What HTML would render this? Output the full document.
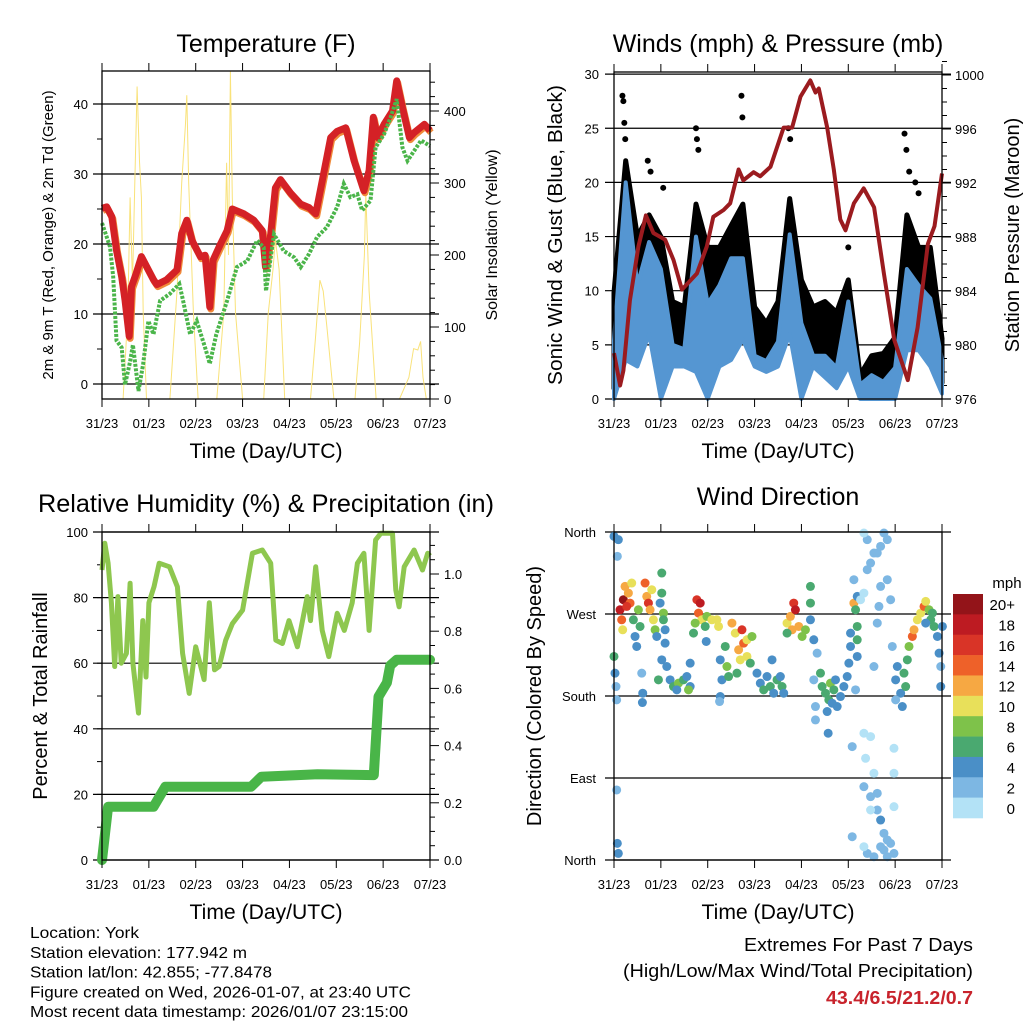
<!DOCTYPE html>
<html><head><meta charset="utf-8"><style>
html,body{margin:0;padding:0;background:#fff}
svg{display:block;font-family:"Liberation Sans",sans-serif}
</style></head><body>
<svg id="c" width="1024" height="1024" viewBox="0 0 1024 1024"></svg>
<script>
// ---------- data ----------
const dayLabels=["31/23","01/23","02/23","03/23","04/23","05/23","06/23","07/23"];
const tempT=[0,0.1,0.21,0.31,0.42,0.49,0.58,0.63,0.73,0.84,0.95,1.1,1.17,1.38,1.6,1.7,1.81,1.92,2.1,2.2,2.3,2.37,2.53,2.67,2.78,3.03,3.24,3.42,3.49,3.6,3.7,3.81,4.02,4.24,4.42,4.56,4.7,4.88,5.02,5.2,5.38,5.59,5.7,5.79,5.88,6.02,6.2,6.29,6.41,6.56,6.66,6.88,7];
const tempF=[25.1,25.3,23.9,19.1,15.3,12,6.8,13.9,15.8,18.2,16.8,14.9,14.2,14.9,16.3,21.5,23.4,20.5,18.2,18.4,11,17.7,20,21.9,25,24.3,23.4,21.9,16.7,21.4,28,29.2,27.3,25.7,25.2,24.3,29,35.2,36.1,36.6,31.9,27.6,30.5,38.1,35.2,37.1,39,43.3,39.5,35.2,35.9,37.1,36.2];
const dewT=[0,0.17,0.24,0.31,0.42,0.49,0.6,0.66,0.78,0.88,0.99,1.1,1.24,1.45,1.65,1.73,1.88,2.02,2.2,2.3,2.44,2.67,2.88,3.1,3.31,3.45,3.5,3.67,3.88,4.1,4.24,4.42,4.59,4.8,5.02,5.16,5.3,5.45,5.55,5.73,5.84,6.02,6.16,6.29,6.41,6.52,6.66,6.81,7];
const dewF=[23,19.6,15.3,6.2,5.2,-0.1,3.2,5.6,-1,2.9,9,7.1,11.9,12.9,14.3,11.9,7.1,9,5.2,2.9,7.1,11.9,16.7,17.6,20.5,19.5,13.3,21.4,19,18.1,16.7,18.6,21,22.4,25.3,28.6,26.7,27.1,24.8,26.2,33.8,35.7,38.1,40.7,33.8,31.9,33.3,34.8,34];
const solarT=[0.45,0.55,0.6,0.65,0.7,0.75,0.8,0.84,0.88,0.95,1.45,1.6,1.7,1.78,1.81,1.85,1.95,2.05,2.45,2.6,2.66,2.7,2.74,2.78,2.85,3.0,3.45,3.55,3.65,3.7,3.78,3.9,4.45,4.55,4.65,4.72,4.8,4.95,5.4,5.5,5.6,5.63,5.7,5.85,6.35,6.55,6.65,6.74,6.8,6.85,6.92];
const solarW=[0,120,280,160,300,434,330,280,120,0,0,150,300,380,422,300,120,0,0,120,328,200,455,280,120,0,0,120,180,221,180,0,0,80,165,150,100,0,0,80,200,286,150,0,0,30,70,68,80,30,0];
const windT=[0,0.25,0.5,0.75,1,1.25,1.5,1.75,2,2.25,2.5,2.75,3,3.25,3.5,3.75,4,4.25,4.5,4.75,5,5.25,5.5,5.75,6,6.25,6.5,6.75,7];
const gustHi=[9.8,22,15,17,15,9,8.5,18,14,14,16,18,8.5,7,9,18.5,11,8.5,9,8,11,2.2,4,4.2,5.7,17,14,14,5.6];
const windHi=[5.4,20,10.5,14.5,12,5,4.6,15,8.8,10.5,13,13,4,3.5,5.3,15.2,7,4,4,2.9,9,1.3,2.2,1.6,2.9,12,10.5,9.3,3.6];
const windLo=[0,3.6,3,6,0,3,3,2.5,0,3,3.6,5.5,3,2.5,3,6,0,3,2,1,3,0,0,0,0,4.5,4.5,3,0.5];
const gustSpikeT=[0.18,0.2,0.22,0.24,0.72,0.78,1.05,1.75,1.77,1.8,2.72,2.74,3.72,3.76,5.0,6.2,6.24,6.3,6.43,6.5];
const gustSpikeV=[28,27.5,25.5,24,22,21,19.5,25,24,23,28,26,25,24,14,24.5,23,21,20,19];
const presT=[0,0.13,0.2,0.34,0.52,0.68,0.84,1.09,1.27,1.45,1.77,1.98,2.12,2.34,2.48,2.66,2.76,2.98,3.12,3.34,3.62,3.8,3.98,4.19,4.3,4.37,4.55,4.69,4.83,4.94,5.12,5.33,5.55,5.76,5.98,6.27,6.48,6.7,6.84,7];
const presMb=[979.4,977,978.1,983.3,987.3,989.6,988.3,987.8,986.3,984.1,985.3,987.3,989.5,990,990.5,993,992.2,992.8,992.5,993.2,996.1,996.1,998.4,999.6,998.7,999,996.1,993,989.3,988.5,990.5,991.6,990.2,985.3,980.4,977.4,981.3,987.5,988.8,992.7];
const rhT=[0,0.06,0.13,0.2,0.27,0.34,0.41,0.52,0.6,0.66,0.78,0.87,0.94,1,1.11,1.22,1.44,1.61,1.72,1.86,2,2.18,2.29,2.4,2.5,2.64,2.78,3,3.21,3.42,3.6,3.71,3.85,3.99,4.17,4.38,4.45,4.56,4.7,4.84,5.02,5.17,5.34,5.45,5.59,5.7,5.84,5.95,6.2,6.27,6.34,6.45,6.66,6.84,6.95,7];
const rhPct=[88.4,96.6,90.5,78.4,59,80.3,60,63,84.4,60,44.8,73,55.8,78.4,83.3,90.5,89.4,83.3,63,50.8,65,55,78.4,58,59,67,72,76.2,93.5,94.5,90.5,67,66,73,65,80.3,73,89.4,70,62,75.2,70,78.4,90.5,93.5,70,97.6,99.6,99.6,82.3,77.2,89.4,94.5,88.4,93.5,92.7];
const rainT=[0,0.13,1.1,1.35,3.18,3.4,4.6,5.8,5.9,6.08,6.15,6.29,7];
const rainIn=[0,0.186,0.186,0.256,0.256,0.291,0.3,0.297,0.571,0.62,0.68,0.7,0.7];
const dirRaw=[[42,50,4],[55,60,4],[52,110,2],[42,410,6],[45,460,4],[48,500,2],[50,540,2],[52,970,4],[55,1000,4],[50,810,2],
[60,270,18],[70,240,20],[65,300,14],[75,200,12],[85,220,12],[90,250,14],[68,330,10],[95,190,10],[80,260,16],
[100,300,6],[105,350,4],[110,380,4],[120,320,6],[125,460,2],[128,520,4],[127,548,4],[115,270,8],
[135,190,14],[140,230,12],[145,250,16],[150,270,12],[155,210,10],[160,300,10],[165,330,8],[170,350,4],
[185,160,6],[185,220,6],[180,250,4],[190,280,8],[190,300,6],[195,330,4],[195,370,4],[185,420,4],[175,480,6],
[200,440,4],[210,480,4],[220,500,6],[235,490,8],[250,480,6],[260,470,4],[270,500,4],[270,430,4],[265,510,8],[230,510,4],
[290,240,16],[300,250,18],[295,280,14],[305,300,10],[285,310,8],[280,340,6],[315,320,6],[320,290,8],[335,300,10],[350,300,10],[355,320,10],[318,365,4],
[360,420,4],[365,480,4],[360,530,4],[358,545,2],[375,380,6],[380,440,8],[385,470,6],[395,310,12],[405,340,10],[415,390,12],[425,330,16],[430,370,14],[420,420,10],[440,360,10],[440,410,10],[450,430,6],[455,350,8],[410,460,6],
[470,460,4],[480,490,4],[490,510,6],[500,470,4],[510,500,6],[520,520,4],[515,420,4],[530,480,6],[545,500,6],[550,520,4],[540,470,4],
[560,310,10],[570,290,12],[580,250,16],[585,270,18],[575,330,12],[595,320,12],[605,350,8],[615,330,8],[560,340,6],[630,200,6],[630,250,6],[630,300,4],
[640,360,4],[650,400,2],[640,480,2],[645,560,2],[645,600,2],[660,460,6],[665,500,6],[675,520,6],[685,540,6],[690,490,8],[700,510,6],[705,480,4],[695,550,4],[680,575,4],[683,640,4],[710,560,4],[720,530,4],[730,500,4],[740,470,4],
[745,430,4],[750,380,4],[750,340,4],[760,250,12],[765,270,6],[770,230,4],[770,320,6],[770,360,6],[770,410,4],[765,510,2],[755,680,2],
[780,240,0],[790,220,0],[800,150,2],[810,130,2],[820,100,2],[830,100,2],[840,80,2],[850,40,2],[860,60,2],[800,60,2],[840,200,2],[835,260,2],[860,180,2],[870,240,2],[830,310,2],[820,440,2],[875,380,2],[790,40,0],[760,180,2],
[790,640,0],[795,715,0],[820,760,0],[880,760,0],[880,685,0],[810,650,0],
[790,800,2],[810,830,2],[830,870,2],[840,900,4],[850,940,2],[860,960,2],[840,980,2],[800,1000,2],[820,1010,2],[860,1010,2],[880,1000,2],[810,870,0],[880,860,0],[830,820,2],[755,950,2],[790,980,0],[850,990,2],[870,970,2],
[885,480,4],[890,440,4],[900,520,4],[905,560,4],[910,460,6],[915,500,6],[885,540,2],[920,420,6],[925,380,8],[935,350,14],[940,330,12],[950,300,10],[960,280,10],[970,260,14],[975,245,10],[985,270,8],[990,300,6],[1000,320,6],[1010,350,4],[1015,400,4],[1020,440,2],[1025,320,4],[1020,500,4],[975,310,4],[995,280,6]];
const dirT=dirRaw.map(p=>(p[0]-42)/140.25);
const dirDeg=dirRaw.map(p=>360-(p[1]-37)*0.3663);
const dirSpd=dirRaw.map(p=>p[2]);
const cbLabels=["20+","18","16","14","12","10","8","6","4","2","0"];
const cbColors=["#931419","#bd1b22","#d93427","#ee6129","#f6a843","#e8e05a","#7ec24a","#4aa970","#4a8fc7","#7db7e3","#b3e2f6"];

// ---------- helpers ----------
const S=document.getElementById('c');const NS="http://www.w3.org/2000/svg";
function el(tag,a,parent){const e=document.createElementNS(NS,tag);for(const k in a)e.setAttribute(k,a[k]);(parent||S).appendChild(e);return e;}
function txt(s,x,y,size,anchor,extra){const e=el('text',Object.assign({x:x,y:y,'font-size':size,'text-anchor':anchor||'middle',fill:'#000'},extra||{}));e.textContent=s;return e;}
const X0L=102,X0R=614,W=328;
function tx(x0,t){return x0+t*W/7;}
function frame(x0,y0,y1,name){
  const r=el('rect',{x:x0,y:y0,width:W,height:y1-y0,fill:'none',stroke:'#000','stroke-width':1.3});
  
  for(let i=0;i<8;i++){const x=tx(x0,i);
    el('line',{x1:x,x2:x,y1:y0,y2:y0-8,stroke:'#000'});el('line',{x1:x,x2:x,y1:y1,y2:y1+8,stroke:'#000'});
    const t=txt(dayLabels[i],x,y1+29,13);
    }
  const at=txt("Time (Day/UTC)",x0+W/2,y1+59,21,'middle',{textLength:153,lengthAdjust:'spacingAndGlyphs'});
  
}
function hgrid(x0,y){el('line',{x1:x0-9,x2:x0+W+9,y1:y,y2:y,stroke:'#000','stroke-width':1.2});}
function path(pts){return pts.map((p,i)=>(i?'L':'M')+p[0].toFixed(1)+','+p[1].toFixed(1)).join('');}

// ---------- Panel 1: temperature ----------
(function(){
  const y0=71,y1=399;const fy=v=>384-v*7;const sy=v=>399-v*0.72;
  const tt=txt("Temperature (F)",266,52,25);
  [0,10,20,30,40].forEach(v=>{hgrid(X0L,fy(v));const l=txt(String(v),88,fy(v)+5,13,'end');});
  for(let v=0;v<=44;v+=5){el('line',{x1:X0L,x2:X0L-5,y1:fy(v),y2:fy(v),stroke:'#000'});}
  for(let v=0;v<=450;v+=20){el('line',{x1:X0L+W,x2:X0L+W+(v%100?5:9),y1:sy(v),y2:sy(v),stroke:'#000'});}
  [0,100,200,300,400].forEach(v=>{const l=txt(String(v),444,sy(v)+5,13,'start');});
  const sp=el('path',{d:path(solarT.map((t,i)=>[tx(X0L,t),sy(solarW[i])])),fill:'none',stroke:'#f9e27a','stroke-width':1});
  
  const o=el('path',{d:path(tempT.map((t,i)=>[tx(X0L,t)+1,fy(tempF[i])+2])),fill:'none',stroke:'#f08a3a','stroke-width':7,'stroke-linejoin':'round'});
  
  const r=el('path',{d:path(tempT.map((t,i)=>[tx(X0L,t),fy(tempF[i])])),fill:'none',stroke:'#d42126','stroke-width':7,'stroke-linejoin':'round'});
  
  const d=el('path',{d:path(dewT.map((t,i)=>[tx(X0L,t),fy(dewF[i])])),fill:'none',stroke:'#4bb54a','stroke-width':4,'stroke-dasharray':'3,1.5'});
  
  frame(X0L,y0,y1,'temperature');
  const a=txt("2m & 9m T (Red, Orange) & 2m Td (Green)",0,0,15,'middle',{transform:'translate(53,235) rotate(-90)'});
  
  const b=txt("Solar Insolation (Yellow)",0,0,16,'middle',{transform:'translate(497,235) rotate(-90)'});
  
})();

// ---------- Panel 2: winds & pressure ----------
(function(){
  const y0=72,y1=399;const wy=v=>399-v*10.83;const py=v=>399-(v-976)*13.5;
  const tt=txt("Winds (mph) & Pressure (mb)",778,52,25);
  [0,5,10,15,20,25,30].forEach(v=>{hgrid(X0R,wy(v));const l=txt(String(v),599,wy(v)+5,13,'end');});
  for(let v=976;v<=1001;v+=1){el('line',{x1:X0R+W,x2:X0R+W+(v%4?5:9),y1:py(v),y2:py(v),stroke:'#000'});}
  [976,980,984,988,992,996,1000].forEach(v=>{const l=txt(String(v),955,py(v)+5,13,'start');});
  const top=windT.map((t,i)=>[tx(X0R,t),wy(gustHi[i])]);const bot=windT.map((t,i)=>[tx(X0R,t),wy(windLo[i]+1)]).reverse();
  const gb=el('path',{d:path(top.concat(bot))+'Z',fill:'#000',stroke:'#000','stroke-width':5,'stroke-linejoin':'round'});
  
  gustSpikeT.forEach((t,i)=>{const c=el('circle',{cx:tx(X0R,t),cy:wy(gustSpikeV[i]),r:3,fill:'#000'});
    });
  const t2=windT.map((t,i)=>[tx(X0R,t),wy(windHi[i])]);const b2=windT.map((t,i)=>[tx(X0R,t),wy(windLo[i])]).reverse();
  const wb=el('path',{d:path(t2.concat(b2))+'Z',fill:'#5596d2',stroke:'#5596d2','stroke-width':4,'stroke-linejoin':'round'});
  
  const p=el('path',{d:path(presT.map((t,i)=>[tx(X0R,t),py(presMb[i])])),fill:'none',stroke:'#9b1b1f','stroke-width':4,'stroke-linejoin':'round'});
  
  frame(X0R,y0,y1,'winds');
  el('line',{x1:X0R,x2:X0R+W,y1:74,y2:74,stroke:'#000'});
  const a=txt("Sonic Wind & Gust (Blue, Black)",0,0,20,'middle',{transform:'translate(562,235) rotate(-90)',textLength:300,lengthAdjust:'spacingAndGlyphs'});
  
  const b=txt("Station Pressure (Maroon)",0,0,20,'middle',{transform:'translate(1019,235) rotate(-90)'});
  
})();

// ---------- Panel 3: RH & precipitation ----------
(function(){
  const y0=532,y1=860;const ry=v=>860-v*3.28;const qy=v=>860-v*286;
  const tt=txt("Relative Humidity (%) & Precipitation (in)",266,512,25,'middle',{textLength:456,lengthAdjust:'spacingAndGlyphs'});
  [0,20,40,60,80,100].forEach(v=>{hgrid(X0L,ry(v));const l=txt(String(v),88,ry(v)+5,13,'end');});
  for(let v=0;v<=100;v+=10){el('line',{x1:X0L,x2:X0L-5,y1:ry(v),y2:ry(v),stroke:'#000'});}
  for(let v=0;v<=1.15;v+=0.05){el('line',{x1:X0L+W,x2:X0L+W+(Math.round(v*20)%4?5:9),y1:qy(v),y2:qy(v),stroke:'#000'});}
  ["0.0","0.2","0.4","0.6","0.8","1.0"].forEach(s=>{const l=txt(s,444,qy(+s)+5,13,'start');});
  const h=el('path',{d:path(rhT.map((t,i)=>[tx(X0L,t),ry(rhPct[i])])),fill:'none',stroke:'#8ec74f','stroke-width':5,'stroke-linejoin':'round'});
  
  const q=el('path',{d:path(rainT.map((t,i)=>[tx(X0L,t),qy(rainIn[i])])),fill:'none',stroke:'#49b548','stroke-width':10,'stroke-linejoin':'round','stroke-linecap':'round'});
  
  frame(X0L,y0,y1,'humidity');
  const a=txt("Percent & Total Rainfall",0,0,20,'middle',{transform:'translate(47,696) rotate(-90)'});
  
})();

// ---------- Panel 4: wind direction ----------
(function(){
  const y0=532,y1=860;const dy=v=>860-v*328/360;
  const tt=txt("Wind Direction",778,505,25);
  [[360,"North"],[270,"West"],[180,"South"],[90,"East"],[0,"North"]].forEach(p=>{hgrid(X0R,dy(p[0]));const l=txt(p[1],596,dy(p[0])+5,13,'end');});
  const g=el('g',{});
  dirT.forEach((t,i)=>{const bin=Math.min(10,Math.floor(dirSpd[i]/2));
    const c=el('circle',{cx:tx(X0R,t),cy:dy(dirDeg[i]),r:4.5,fill:cbColors[10-bin]},g);
    });
  frame(X0R,y0,y1,'wind-direction');
  const a=txt("Direction (Colored By Speed)",0,0,20,'middle',{transform:'translate(541,696) rotate(-90)'});
  
  const cb=el('g',{});
  const bh=224/11;
  cbColors.forEach((c,i)=>{const r=el('rect',{x:953,y:594+i*bh,width:30,height:bh+0.3,fill:c},cb);
    
    const l=txt(cbLabels[i],1015,594+i*bh+bh/2+6,15,'end');});
  const m=txt("mph",1007,588,15);
})();

// ---------- footer ----------
const info=["Location: York","Station elevation: 177.942 m","Station lat/lon: 42.855; -77.8478","Figure created on Wed, 2026-01-07, at 23:40 UTC","Most recent data timestamp: 2026/01/07 23:15:00"];
const infoW=[109,217,242,381,378];
info.forEach((s,i)=>{
  const l=txt(s,30,938+i*19.8,16,'start',{textLength:infoW[i],lengthAdjust:'spacingAndGlyphs'});});
const e1=txt("Extremes For Past 7 Days",973,951,18,'end',{textLength:229,lengthAdjust:'spacingAndGlyphs'});
const e2=txt("(High/Low/Max Wind/Total Precipitation)",973,977,18,'end',{textLength:350,lengthAdjust:'spacingAndGlyphs'});
const e3=txt("43.4/6.5/21.2/0.7",973,1004,18,'end',{fill:'#c8232c','font-weight':'bold',textLength:147,lengthAdjust:'spacingAndGlyphs'});
</script>
</body></html>
